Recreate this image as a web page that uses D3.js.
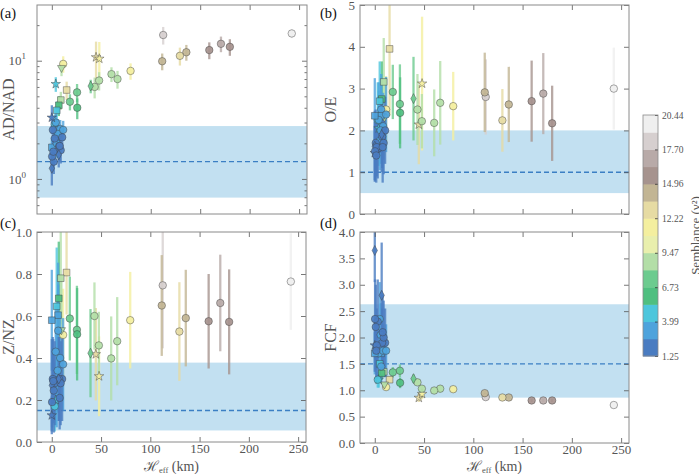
<!DOCTYPE html>
<html><head><meta charset="utf-8">
<script src="https://cdn.jsdelivr.net/npm/d3@7"></script>
<style>
body{margin:0;background:#fff}
svg{display:block}
text{font-family:"Liberation Serif","DejaVu Serif",serif}
</style>
</head><body>
<svg id="chart" width="699" height="474"></svg>
<script>
// ---------------- data ----------------
const hEff      = [242.6,112.6,111.6,79.6,129.5,136.0,159.2,171.0,180.0,66.4,60.3,47.8,43.3,48.0,44.7,39.3,25.5,25.7,18.3,15.0,11.5,9.8,9.1,7.1,6.4,5.0,0.0,4.0,0.0,0.0,7.0,0.3,1.0,3.0,2.0,5.0,6.0,7.5,8.5,10.5,11.5,4.0,9.0,1.5,6.5,3.0,8.0];
const semblance = [20.0,17.9,14.2,11.5,12.9,14.3,15.6,17.0,15.6,8.8,8.8,8.9,9.1,11.0,13.2,7.3,7.0,6.4,7.0,12.6,11.0,9.2,8.6,6.5,3.7,4.6,3.3,4.4,1.9,2.0,1.8,1.5,2.2,2.5,1.6,2.8,3.0,2.4,3.4,2.6,2.9,3.6,1.9,1.4,3.8,4.2,1.3];
const marker    = ["o","o","o","o","o","o","o","o","o","o","o","o","o","*","*","d","o","o","o","s","o","v","s","s","s","s","s","*","*","d","d","o","o","o","o","o","o","o","o","o","o","o","o","o","o","o","o"];
const adnad     = [17.0,16.5,9.9,8.2,11.0,11.8,12.3,13.9,13.1,7.0,7.7,6.8,6.0,10.4,10.7,6.1,5.4,4.0,4.5,5.65,9.4,8.6,4.65,4.2,2.6,3.8,1.85,6.35,3.3,1.23,1.6,1.55,2.6,2.2,1.4,2.0,2.4,1.9,2.65,2.25,2.6,3.0,1.75,1.7,2.35,2.9,1.9];
const adnadErr  = [1.5,2.8,1.6,1.3,1.9,1.8,2.0,2.1,2.1,1.2,1.1,1.2,1.2,4.0,3.8,0.8,0.95,0.8,0.7,1.0,1.5,1.2,0.8,0.8,0.6,0.7,0.4,0.9,0.9,0.35,0.35,0.4,0.6,0.6,0.3,0.5,0.5,0.45,0.5,0.5,0.5,0.6,0.4,0.4,0.5,0.6,0.5];
const oe        = [3.0,2.80,2.91,2.58,2.24,2.62,2.70,2.88,2.17,2.66,2.18,2.22,2.5,3.12,2.14,2.76,2.63,2.42,2.92,3.95,2.5,2.3,3.16,2.75,2.35,2.7,2.35,2.05,1.46,1.62,1.9,1.5,1.7,1.55,1.6,1.75,2.0,1.85,2.1,2.0,2.38,2.25,1.7,1.4,2.5,2.25,1.6];
const oeErr     = [0.98,0.9,0.95,0.82,0.75,0.9,0.97,0.97,0.9,1.0,0.8,0.65,0.85,1.6,0.95,1.0,0.95,0.85,0.65,1.6,0.8,0.9,1.05,0.9,0.9,0.95,0.9,0.9,0.65,0.85,0.9,0.7,0.8,0.7,0.7,0.7,0.8,0.75,0.8,0.8,0.9,0.9,0.75,0.65,0.85,0.9,0.85];
const znz       = [0.764,0.746,0.65,0.58,0.526,0.59,0.575,0.662,0.572,0.48,0.398,0.46,0.60,0.313,0.418,0.423,0.534,0.513,0.588,0.807,0.51,0.53,0.78,0.684,0.604,0.646,0.58,0.2,0.127,0.27,0.30,0.19,0.30,0.28,0.245,0.29,0.34,0.30,0.40,0.30,0.37,0.43,0.28,0.29,0.53,0.17,0.21];
const znzErr    = [0.23,0.30,0.24,0.23,0.235,0.23,0.225,0.23,0.25,0.21,0.2,0.16,0.16,0.19,0.22,0.21,0.21,0.22,0.2,0.2,0.22,0.25,0.22,0.27,0.25,0.28,0.24,0.12,0.09,0.22,0.2,0.12,0.2,0.2,0.2,0.22,0.2,0.2,0.2,0.2,0.22,0.22,0.2,0.2,0.22,0.12,0.15];
const fcf       = [0.72,0.87,0.945,1.02,0.863,0.863,0.806,0.806,0.806,1.03,0.995,1.03,1.15,0.93,0.857,1.22,1.37,1.14,1.34,1.2,1.06,1.1,1.35,1.32,1.7,1.5,1.7,1.2,1.85,3.65,2.8,2.35,2.2,2.3,1.85,2.35,2.05,1.9,1.75,1.9,1.75,1.7,2.0,1.75,1.45,1.2,2.1];
const fcfErr    = [0.02,0.03,0.04,0.04,0.03,0.03,0.03,0.03,0.03,0.07,0.05,0.06,0.06,0.1,0.08,0.08,0.12,0.1,0.1,0.06,0.05,0.06,0.1,0.12,0.3,0.25,0.4,0.15,0.5,0.6,1.0,0.75,0.8,0.8,0.7,0.7,0.6,0.65,0.5,0.65,0.5,0.45,0.7,0.6,0.3,0.15,0.7];

const bandLo   = [0.695, 0.5, 0.055, 0.86];
const bandHi   = [2.8, 2.0, 0.378, 2.63];
const refLine  = [1.4, 1.0, 0.15, 1.5];
const xTicks   = [0, 50, 100, 150, 200, 250];
const cbTicks  = [1.25, 3.99, 6.73, 9.47, 12.22, 14.96, 17.70, 20.44];
const cbColors = ["#4a7cc1","#4ea3dc","#4dc6dc","#4fbf80","#6ccb8f","#b3dea7","#e9efad","#f4ef9f","#e6dba3","#c2b594","#a6938e","#b8aaa8","#d6cfcf","#efefef"];

// ---------------- drawing ----------------
const svg = d3.select("#chart");
const color = d3.scaleQuantize().domain([1.25, 20.44]).range(cbColors);
const frameCol = "#8a8a8a", tickCol = "#555", txtCol = "#555";

const panels = [
  {id:"a", vals:adnad, errs:adnadErr, x0:37, x1:307, y0:5,   y1:214, log:true, dom:[0.505,29.6], label:"AD/NAD", lx:13.5, tag:"(a)", tx:0,   ty:18,  showX:false},
  {id:"b", vals:oe,    errs:oeErr,    x0:360,x1:629, y0:5,   y1:214, log:false,dom:[0,5],    ticks:[0,1,2,3,4,5], fmt:d3.format("d"), label:"O/E", lx:336, tag:"(b)", tx:320, ty:18, showX:false},
  {id:"c", vals:znz,   errs:znzErr,   x0:37, x1:306, y0:232, y1:442, log:false,dom:[0,1],    ticks:[0,0.2,0.4,0.6,0.8,1.0], fmt:d3.format(".1f"), label:"Z/NZ", lx:13.5, tag:"(c)", tx:0, ty:228, showX:true},
  {id:"d", vals:fcf,   errs:fcfErr,   x0:360,x1:629, y0:232, y1:443, log:false,dom:[0,4],    ticks:[0,0.5,1,1.5,2,2.5,3,3.5,4], fmt:d3.format(".1f"), label:"FCF", lx:336, tag:"(d)", tx:320, ty:228, showX:true}
];

const order = d3.range(hEff.length).sort((i,j)=>semblance[j]-semblance[i]);

function markerPath(m){
  if(m==="o") return d3.symbol(d3.symbolCircle, 44)();
  if(m==="s") return d3.symbol(d3.symbolSquare, 44)();
  if(m==="*") return d3.symbol(d3.symbolStar, 28)();
  if(m==="d") return "M0,-5L2.7,0L0,5L-2.7,0Z";
  if(m==="v") return "M-4,-3L4,-3L0,4Z";
}

panels.forEach((p,pi)=>{
  const x = d3.scaleLinear().domain([-15,258]).range([p.x0,p.x1]);
  const y = p.log ? d3.scaleLog().domain(p.dom).range([p.y1,p.y0])
                  : d3.scaleLinear().domain(p.dom).range([p.y1,p.y0]);
  const g = svg.append("g");
  const clipId = "clip"+p.id;
  svg.append("clipPath").attr("id",clipId).append("rect")
     .attr("x",p.x0).attr("y",p.y0).attr("width",p.x1-p.x0).attr("height",p.y1-p.y0);
  const inner = g.append("g").attr("clip-path",`url(#${clipId})`);

  inner.append("rect").attr("x",p.x0).attr("width",p.x1-p.x0)
    .attr("y",y(bandHi[pi])).attr("height",y(bandLo[pi])-y(bandHi[pi]))
    .attr("fill","#c2e0f1");
  inner.append("line").attr("x1",p.x0).attr("x2",p.x1)
    .attr("y1",y(refLine[pi])).attr("y2",y(refLine[pi]))
    .attr("stroke","#3b7fc4").attr("stroke-width",1.4).attr("stroke-dasharray","5,3");

  inner.selectAll("line.err").data(order).join("line").attr("class","err")
    .attr("x1",i=>x(hEff[i])).attr("x2",i=>x(hEff[i]))
    .attr("y1",i=>y(Math.max(p.dom[0], p.vals[i]-p.errs[i])))
    .attr("y2",i=>y(p.vals[i]+p.errs[i]))
    .attr("stroke",i=>color(semblance[i])).attr("stroke-width",2.3).attr("stroke-opacity",0.8);

  inner.selectAll("path.mk").data(order).join("path").attr("class","mk")
    .attr("d",i=>markerPath(marker[i]))
    .attr("transform",i=>`translate(${x(hEff[i])},${y(p.vals[i])})`)
    .attr("fill",i=>color(semblance[i])).attr("fill-opacity",0.92)
    .attr("stroke","#404040").attr("stroke-width",0.6).attr("stroke-opacity",0.75);

  const styleAxis = sel => {
    sel.select(".domain").remove();
    sel.selectAll(".tick line").attr("stroke",tickCol).attr("stroke-width",0.8);
    sel.selectAll(".tick text").attr("fill",txtCol).attr("font-size",13)
       .attr("font-family","Liberation Serif, DejaVu Serif, serif");
  };
  g.append("g").attr("transform",`translate(0,${p.y1})`)
    .call(d3.axisBottom(x).tickValues(xTicks).tickSize(-5).tickPadding(2)
      .tickFormat(p.showX ? d3.format("d") : ()=>"")).call(styleAxis);
  g.append("g").attr("transform",`translate(0,${p.y0})`)
    .call(d3.axisTop(x).tickValues(xTicks).tickSize(-5).tickFormat(()=>"")).call(styleAxis);

  if(p.log){
    const major=[1,10], minor=[0.6,0.7,0.8,0.9,2,3,4,5,6,7,8,9,20];
    const yl = g.append("g").attr("transform",`translate(${p.x0},0)`)
      .call(d3.axisLeft(y).tickValues(major).tickSize(-5).tickPadding(6).tickFormat(()=>"")).call(styleAxis);
    yl.selectAll(".tick text").each(function(d){
      const t=d3.select(this).attr("dx",-5);
      t.append("tspan").text("10");
      t.append("tspan").attr("dy",-6).attr("font-size",9).text(Math.round(Math.log10(d)));
    });
    g.append("g").attr("transform",`translate(${p.x0},0)`)
      .call(d3.axisLeft(y).tickValues(minor).tickSize(-2.5).tickFormat(()=>"")).call(styleAxis);
    g.append("g").attr("transform",`translate(${p.x1},0)`)
      .call(d3.axisRight(y).tickValues(major).tickSize(-5).tickFormat(()=>"")).call(styleAxis);
    g.append("g").attr("transform",`translate(${p.x1},0)`)
      .call(d3.axisRight(y).tickValues(minor).tickSize(-2.5).tickFormat(()=>"")).call(styleAxis);
  } else {
    g.append("g").attr("transform",`translate(${p.x0},0)`)
      .call(d3.axisLeft(y).tickValues(p.ticks).tickSize(-5).tickPadding(5).tickFormat(p.fmt)).call(styleAxis);
    g.append("g").attr("transform",`translate(${p.x1},0)`)
      .call(d3.axisRight(y).tickValues(p.ticks).tickSize(-5).tickFormat(()=>"")).call(styleAxis);
  }

  g.append("rect").attr("x",p.x0).attr("y",p.y0).attr("width",p.x1-p.x0).attr("height",p.y1-p.y0)
    .attr("fill","none").attr("stroke",frameCol).attr("stroke-width",1);

  g.append("text").attr("transform",`translate(${p.lx},${(p.y0+p.y1)/2}) rotate(-90)`)
    .attr("text-anchor","middle").attr("font-size",16).attr("fill",txtCol).text(p.label);

  if(p.showX){
    const t = g.append("text").attr("x",(p.x0+p.x1)/2).attr("y",470.5)
      .attr("text-anchor","middle").attr("font-size",14).attr("fill",txtCol);
    t.append("tspan").text("ℋ");
    t.append("tspan").attr("font-size",8.5).attr("dy",2.5).text("eff");
    t.append("tspan").attr("dy",-2.5).text(" (km)");
  }

  svg.append("text").attr("x",p.tx).attr("y",p.ty).attr("font-size",14.5)
    .attr("font-family","Liberation Sans, Arial, sans-serif").attr("fill","#111").text(p.tag);
});

// ---------------- colorbar ----------------
const cbX=643, cbW=15, cbTop=115, cbBot=356;
const cy = d3.scaleLinear().domain([1.25,20.44]).range([cbBot,cbTop]);
const step = (20.44-1.25)/cbColors.length;
const cb = svg.append("g");
cb.selectAll("rect.seg").data(cbColors).join("rect").attr("class","seg")
  .attr("x",cbX).attr("width",cbW)
  .attr("y",(c,i)=>cy(1.25+(i+1)*step)).attr("height",(c,i)=>cy(1.25+i*step)-cy(1.25+(i+1)*step)+0.5)
  .attr("fill",c=>c);
cb.append("g").attr("transform",`translate(${cbX+cbW},0)`)
  .call(d3.axisRight(cy).tickValues(cbTicks).tickSize(-3).tickPadding(4).tickFormat(d=>d.toFixed(2)))
  .call(sel=>{
    sel.select(".domain").remove();
    sel.selectAll(".tick line").attr("stroke","#333").attr("stroke-width",0.8);
    sel.selectAll(".tick text").attr("fill",txtCol).attr("font-size",9.5)
      .attr("font-family","Liberation Serif, DejaVu Serif, serif");
  });
cb.append("rect").attr("x",cbX).attr("y",cbTop).attr("width",cbW).attr("height",cbBot-cbTop)
  .attr("fill","none").attr("stroke",frameCol).attr("stroke-width",0.8);
cb.append("text").attr("transform",`translate(700,${(cbTop+cbBot)/2}) rotate(-90)`)
  .attr("text-anchor","middle").attr("font-size",13).attr("fill",txtCol).text("Semblance (ν²)");
</script>
</body></html>
